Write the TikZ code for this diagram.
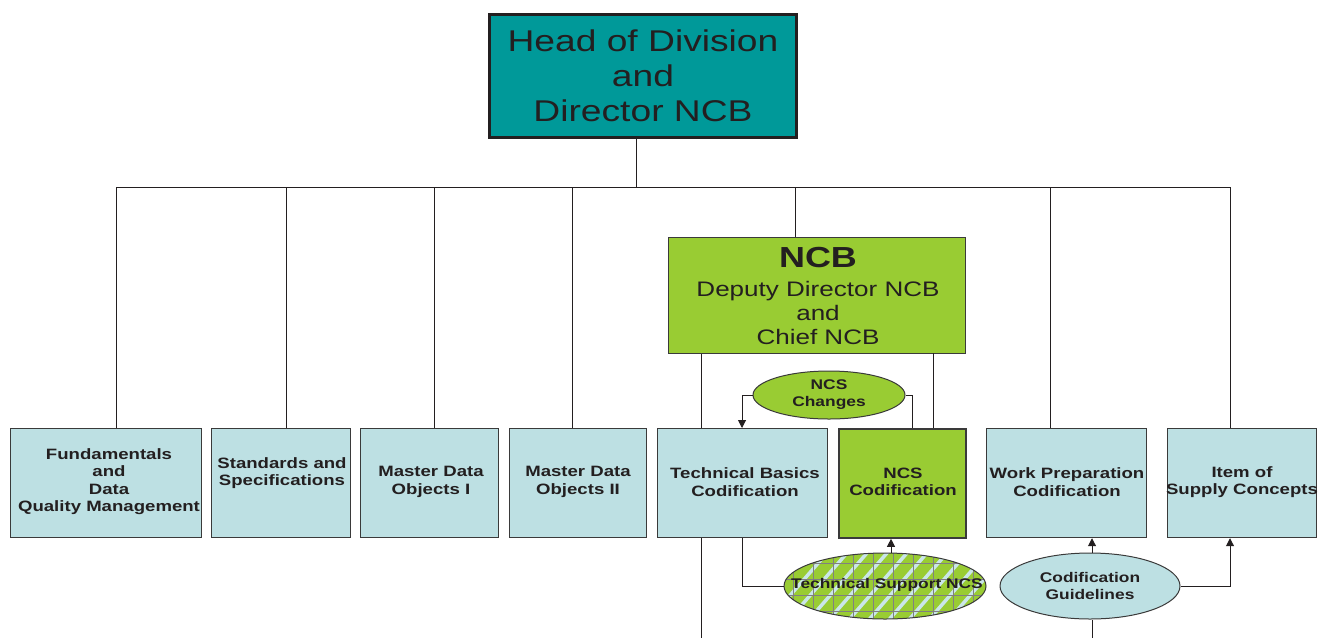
\documentclass[tikz,border=0pt]{standalone}
\usepackage{fontspec}
\setmainfont[FakeStretch=1.24]{Liberation Sans}
\usetikzlibrary{arrows.meta,shapes.geometric}
\definecolor{headfill}{HTML}{009999}
\definecolor{lgreen}{HTML}{99CC33}
\definecolor{lblue}{HTML}{BDE0E3}
\definecolor{txt}{HTML}{231F20}
\definecolor{edge}{HTML}{3A3A3A}
\begin{document}
\begin{tikzpicture}[x=1pt,y=-1pt,
  every node/.style={text=txt, inner sep=0pt, align=center},
  unit/.style={draw=edge, line width=1.2pt, fill=lblue, anchor=north west},
  greenunit/.style={unit, fill=lgreen, line width=1.8pt},
  utext/.style={font=\fontsize{15}{17.5}\selectfont\bfseries},
  oval/.style={ellipse, draw=edge, line width=1pt,
    font=\fontsize{14}{17}\selectfont\bfseries},
  conn/.style={draw=txt, line width=1pt},
  arr/.style={conn, -{Triangle[length=8pt,width=8pt]}}
]
\useasboundingbox (0,0) rectangle (1335,638);

% head
\node[draw=txt, line width=3pt, fill=headfill, anchor=north west,
  minimum width=307, minimum height=123,
  font=\fontsize{30}{35}\selectfont] (head) at (488,13)
  {Head of Division\\and\\Director NCB};

% bus
\coordinate (b1) at (116,187);
\coordinate (b2) at (286,187);
\coordinate (b3) at (434,187);
\coordinate (b4) at (572,187);
\coordinate (b5) at (795,187);
\coordinate (b6) at (1050,187);
\coordinate (b7) at (1230,187);
\coordinate (hb) at (636,187);

% NCB box
\node[draw=edge, line width=1.2pt, fill=lgreen, anchor=north west,
  minimum width=297, minimum height=116] (ncb) at (668,237) {};
\node[font=\fontsize{29}{30}\selectfont\bfseries] (ncbt) at (818,258) {NCB};
\node[font=\fontsize{21}{24}\selectfont] (ncbs) at (818,313)
  {Deputy Director NCB\\and\\Chief NCB};

% line from NCB down (behind boxes)
\coordinate (bottomL) at (701,638);
\draw[conn] (ncb.south west -| bottomL) -- (bottomL);

% bottom units
\node[unit, minimum width=191, minimum height=109] (fund) at (10,428) {};
\node[utext] (fundt) at (109,481.5)
  {Fundamentals\\and\\Data\\Quality Management};
\node[unit, minimum width=139, minimum height=109] (std) at (211,428) {};
\node[utext] (stdt) at (282,473)
  {Standards and\\Specifications};
\node[unit, minimum width=138, minimum height=109] (mdo1) at (360,428) {};
\node[utext] (mdo1t) at (431,482)
  {Master Data\\Objects I};
\node[unit, minimum width=137, minimum height=109] (mdo2) at (509,428) {};
\node[utext] (mdo2t) at (578,482)
  {Master Data\\Objects II};
\node[unit, minimum width=170, minimum height=109] (tbc) at (657,428) {};
\node[utext] (tbct) at (745,482)
  {Technical Basics\\Codification};
\node[greenunit, minimum width=127, minimum height=109] (ncsc) at (838,428) {};
\node[utext] (ncsct) at (903,482)
  {NCS\\Codification};
\node[unit, minimum width=160, minimum height=109] (wpc) at (986,428) {};
\node[utext] (wpct) at (1067,482)
  {Work Preparation\\Codification};
\node[unit, minimum width=149, minimum height=109] (isc) at (1167,428) {};
\node[utext] (isct) at (1242,482)
  {Item of\\Supply Concepts};

% tree connectors
\draw[conn] (b1) -- (b7);
\draw[conn] (head.south -| hb) -- (hb);
\draw[conn] (b1) -- (b1 |- fund.north);
\draw[conn] (b2) -- (b2 |- std.north);
\draw[conn] (b3) -- (b3 |- mdo1.north);
\draw[conn] (b4) -- (b4 |- mdo2.north);
\draw[conn] (b5) -- (b5 |- ncb.north);
\draw[conn] (b6) -- (b6 |- wpc.north);
\draw[conn] (b7) -- (b7 |- isc.north);
\coordinate (nr) at (933,353);
\draw[conn] (nr) -- (nr |- ncsc.north);

% NCS Changes
\node[oval, fill=lgreen, minimum width=152, minimum height=48] (chg) at (829,395)
  {NCS\\Changes};
\coordinate (cl) at (742,395);
\coordinate (cr) at (912,395);
\draw[arr] (chg.west) -- (cl) -- (cl |- tbc.north);
\draw[conn] (chg.east) -- (cr) -- (cr |- ncsc.north);

% Technical Support NCS (patterned)
\begin{scope}
  \clip (885,586) ellipse [x radius=101, y radius=33];
  \fill[lgreen] (780,550) rectangle (990,622);
  \foreach \i in {-100,-80,...,240}
    \draw[lblue!80!white, line width=3.5pt] (780+\i,630) -- ++(80,-92);
  \foreach \x in {793,813,...,993}
    \draw[gray, line width=1pt] (\x,550) -- (\x,622);
  \foreach \y in {563,579,595,611}
    \draw[gray, line width=1pt] (780,\y) -- (990,\y);
\end{scope}
\node[oval, minimum width=202, minimum height=66] (tsn) at (885,586) {};
\node[font=\fontsize{14}{17}\selectfont\bfseries] (tsnt) at (887,585)
  {Technical Support NCS};
\coordinate (tl) at (742,586);
\coordinate (tt) at (891,553);
\draw[conn] (tbc.south -| tl) -- (tl) -- (tsn.west);
\draw[arr] (tt) -- (tt |- ncsc.south);

% Codification Guidelines
\node[oval, fill=lblue, minimum width=180, minimum height=66] (cg) at (1090,586)
  {Codification\\Guidelines};
\coordinate (gr) at (1230,586);
\coordinate (gb) at (1092,638);
\draw[arr] (cg.north -| gb) -- (gb |- wpc.south);
\draw[arr] (cg.east) -- (gr) -- (gr |- isc.south);
\draw[conn] (cg.south -| gb) -- (gb);

\end{tikzpicture}
\end{document}
